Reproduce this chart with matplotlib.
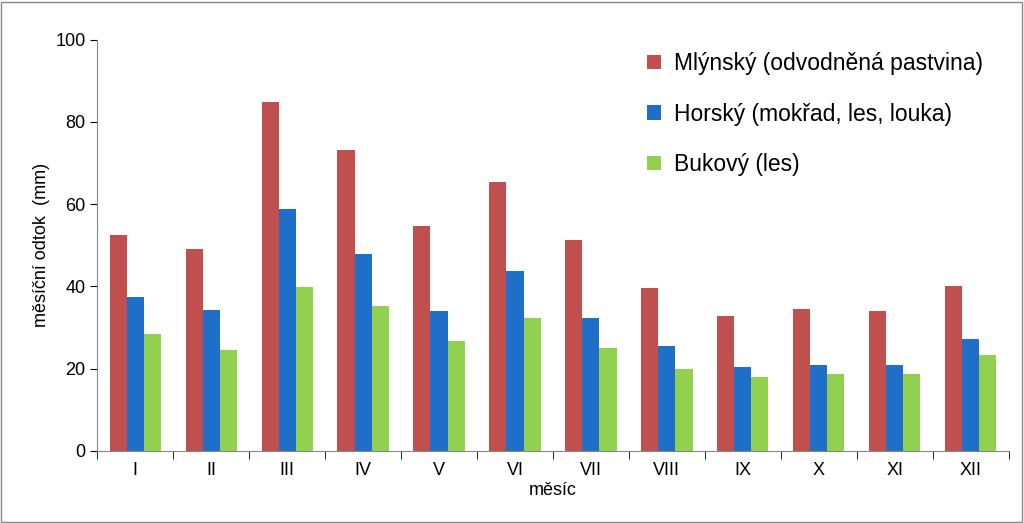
import matplotlib
matplotlib.use("Agg")
import matplotlib.pyplot as plt
import numpy as np

months = ["I","II","III","IV","V","VI","VII","VIII","IX","X","XI","XII"]
mlynsky = [52.5,49.2,84.8,73.3,54.8,65.3,51.2,39.5,32.8,34.5,34.0,40.0]
horsky = [37.3,34.3,58.8,48.0,34.0,43.8,32.3,25.5,20.3,20.8,20.8,27.3]
bukovy = [28.3,24.5,39.8,35.3,26.7,32.3,24.9,20.0,18.0,18.8,18.8,23.3]
labels = ["Mlýnský (odvodněná pastvina)", "Horský (mokřad, les, louka)", "Bukový (les)"]
colors = ["#C0504D", "#1F6FC8", "#92D050"]

plt.rcParams["font.family"] = "Liberation Sans"
fig = plt.figure(figsize=(10.24,5.23), dpi=100)
ax = fig.add_axes([0.095,0.138,0.89,0.786])
x = np.arange(len(months))
w = 0.225
for i,(vals,lab,c) in enumerate(zip([mlynsky,horsky,bukovy],labels,colors)):
    ax.bar(x+(i-1)*w, vals, w, color=c, label=lab)
ax.set_xlim(-0.5, len(months)-0.5)
ax.set_ylim(0,100)
ax.set_yticks(range(0,101,20))
ax.set_xticks(x)
ax.set_xticklabels(months, fontsize=13)
ax.set_xticks(np.arange(-0.5,len(months),1), minor=True)
ax.tick_params(axis="x", which="major", length=0, pad=8)
ax.tick_params(axis="x", which="minor", length=6, direction="out")
ax.tick_params(axis="y", labelsize=13, direction="out", length=5)
for s in ["top","right"]:
    ax.spines[s].set_visible(False)
ax.spines["left"].set_color("#888888")
ax.spines["bottom"].set_color("#888888")
ax.set_ylabel("měsíční odtok  (mm)", fontsize=13)
ax.set_xlabel("měsíc", fontsize=13, labelpad=2)
ax.legend(loc="upper right", bbox_to_anchor=(0.995,1.02), frameon=False, fontsize=16.5,
          handlelength=0.6, handleheight=0.6, handletextpad=0.6, labelspacing=1.2)
fig.patches.append(plt.Rectangle((0.001,0.002),0.997,0.995, transform=fig.transFigure,
                                 fill=False, edgecolor="#888888", linewidth=1))
fig.savefig("out.png", dpi=100)
